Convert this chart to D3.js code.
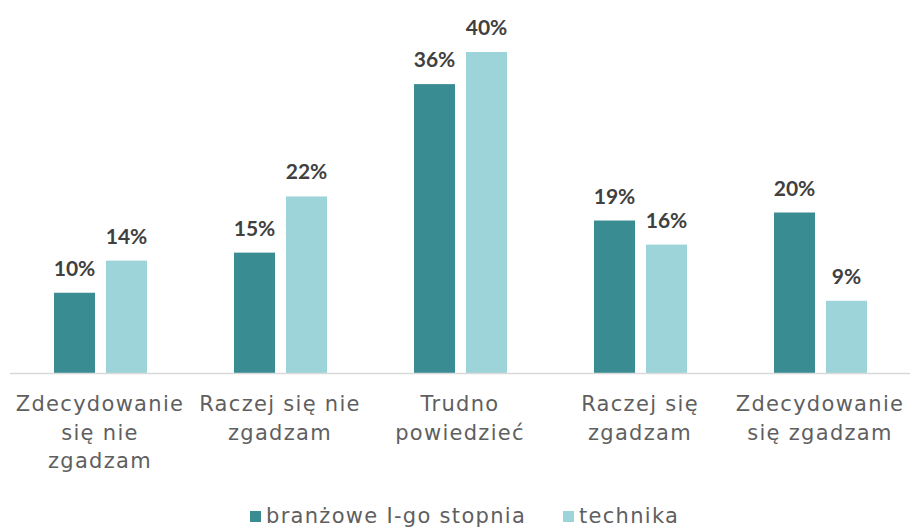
<!DOCTYPE html>
<html>
<head>
<meta charset="utf-8">
<script src="https://cdn.jsdelivr.net/npm/d3@7"></script>
<style>
  body { margin: 0; background: #fff; }
  text { font-family: "DejaVu Sans", sans-serif; }
  text.val { font-family: "Lato", "DejaVu Sans", sans-serif; }
</style>
</head>
<body>
<div id="chart"></div>
<script>
// data
const categories = [
  ['Zdecydowanie', 'się nie', 'zgadzam'],
  ['Raczej się nie', 'zgadzam'],
  ['Trudno', 'powiedzieć'],
  ['Raczej się', 'zgadzam'],
  ['Zdecydowanie', 'się zgadzam']
];
const seriesNames = ['branżowe I-go stopnia', 'technika'];
const branzowe = [10, 15, 36, 19, 20];
const technika = [14, 22, 40, 16, 9];
const colors = ['#3a8c93', '#9dd4da'];

const svgWidth = 910;
const svgHeight = 528;
const baseY = 373;

const svg = d3.select('#chart')
  .append('svg')
  .attr('width', svgWidth)
  .attr('height', svgHeight);

const x0 = d3.scaleBand()
  .domain(d3.range(categories.length))
  .range([10, 910]);

// two bars 41px wide with an 11px gap
const x1 = d3.scaleBand()
  .domain([0, 1])
  .range([-46, 47])
  .paddingInner(0.2115);

// 40% -> y=52
const y = d3.scaleLinear()
  .domain([0, 40])
  .range([baseY, 52]);

const rows = categories.map((c, i) => ({
  i: i,
  vals: [branzowe[i], technika[i]]
}));

const groups = svg.selectAll('g.grp')
  .data(rows)
  .enter()
  .append('g')
  .attr('class', 'grp')
  .attr('transform', d => `translate(${x0(d.i) + x0.bandwidth() / 2}, 0)`);

groups.selectAll('rect')
  .data(d => d.vals.map((v, s) => ({ v, s })))
  .enter()
  .append('rect')
  .attr('x', d => x1(d.s))
  .attr('width', x1.bandwidth())
  .attr('y', d => y(d.v))
  .attr('height', d => baseY - y(d.v))
  .attr('fill', d => colors[d.s]);

groups.selectAll('text.val')
  .data(d => d.vals.map((v, s) => ({ v, s })))
  .enter()
  .append('text')
  .attr('class', 'val')
  .attr('x', d => x1(d.s) + x1.bandwidth() / 2)
  .attr('y', d => y(d.v) - 17)
  .attr('text-anchor', 'middle')
  .attr('font-size', 21)
  .attr('font-weight', 'bold')
  .attr('fill', '#404040')
  .text(d => d.v + '%');

// axis line
svg.append('line')
  .attr('x1', 10)
  .attr('x2', 910)
  .attr('y1', baseY + 0.5)
  .attr('y2', baseY + 0.5)
  .attr('stroke', '#d9d9d9')
  .attr('stroke-width', 1.5);

// category labels
groups.append('text')
  .attr('text-anchor', 'middle')
  .attr('font-size', 21)
  .attr('letter-spacing', 1.3)
  .attr('fill', '#5f5f5f')
  .selectAll('tspan')
  .data(d => categories[d.i])
  .enter()
  .append('tspan')
  .attr('x', 0)
  .attr('y', (d, k) => 411 + k * 28.5)
  .text(d => d);

// legend
const legendX = [250, 563];
const legend = svg.selectAll('g.leg')
  .data(seriesNames)
  .enter()
  .append('g')
  .attr('class', 'leg')
  .attr('transform', (d, i) => `translate(${legendX[i]}, 511)`);

legend.append('rect')
  .attr('width', 11)
  .attr('height', 11)
  .attr('fill', (d, i) => colors[i]);

legend.append('text')
  .attr('x', 16)
  .attr('y', 12)
  .attr('font-size', 21)
  .attr('letter-spacing', 1.3)
  .attr('fill', '#5f5f5f')
  .text(d => d);
</script>
</body>
</html>
